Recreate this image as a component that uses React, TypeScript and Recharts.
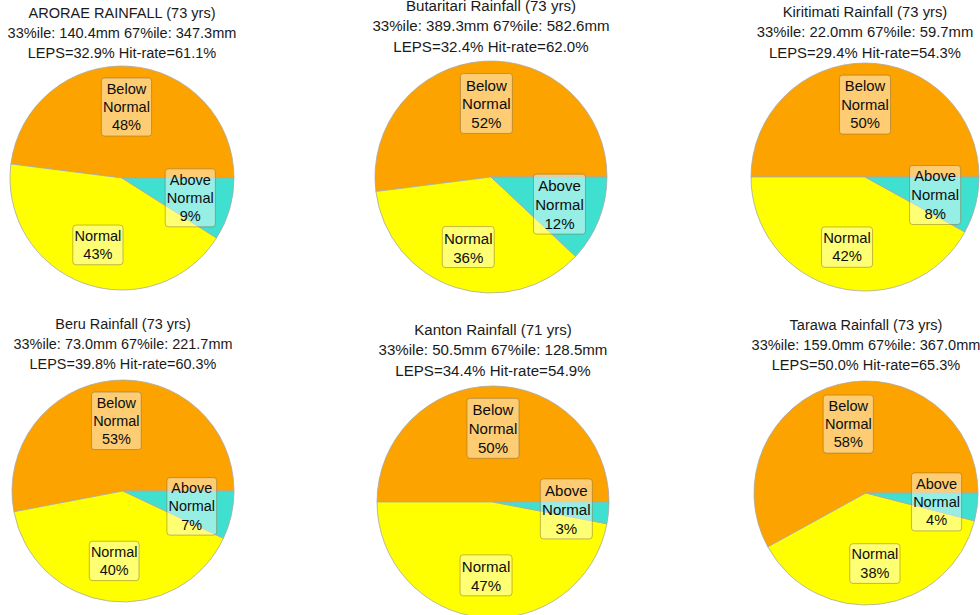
import React from 'react';
import { PieChart, Pie, Cell } from 'recharts';

// station summaries, in panel order (row by row)
const titles = [
  'ARORAE RAINFALL (73 yrs)',
  'Butaritari Rainfall (73 yrs)',
  'Kiritimati Rainfall (73 yrs)',
  'Beru Rainfall (73 yrs)',
  'Kanton Rainfall (71 yrs)',
  'Tarawa Rainfall (73 yrs)',
];
const pct33 = ['140.4', '389.3', '22.0', '73.0', '50.5', '159.0'];
const pct67 = ['347.3', '582.6', '59.7', '221.7', '128.5', '367.0'];
const leps = ['32.9', '32.4', '29.4', '39.8', '34.4', '50.0'];
const hitRate = ['61.1', '62.0', '54.3', '60.3', '54.9', '65.3'];

const categories = [['Below', 'Normal'], ['Normal'], ['Above', 'Normal']];
const belowNormal = [48, 52, 50, 53, 50, 58];
const normal = [43, 36, 42, 40, 47, 38];
const aboveNormal = [9, 12, 8, 7, 3, 4];

const sliceColors = ['#FCA300', '#FFFF00', '#40E0D0'];

// layout per panel: left, top, pie centre, radius, first title line centre
const panelLeft = [0, 327, 654, 0, 327, 654];
const panelTop = [0, 0, 0, 307, 307, 307];
const pieCx = [122, 164, 211, 123, 166, 212];
const pieCy = [178, 177, 177, 184, 195, 186];
const pieR = [112, 116, 114, 111, 116, 112];
const titleY = [13, 6, 12, 18, 23, 18];

const FONT = '"Liberation Sans", Arial, Helvetica, sans-serif';
const RAD = Math.PI / 180;

const makeLabel = (fontSize: number) => (props: any) => {
  const { cx, cy, midAngle, outerRadius, index, value } = props;
  const r = outerRadius * 0.635;
  const x = cx + r * Math.cos(-midAngle * RAD);
  const y = cy + r * Math.sin(-midAngle * RAD);
  const lines = [...categories[index], `${value}%`];
  const lh = fontSize * 1.26;
  const w = fontSize * 3.45;
  const h = lines.length * lh + 3;
  return (
    <g key={`lbl-${index}`}>
      <rect
        x={x - w / 2}
        y={y - h / 2}
        width={w}
        height={h}
        rx={3}
        fill="#ffffff"
        fillOpacity={0.45}
        stroke="#7a6430"
        strokeOpacity={0.45}
        strokeWidth={1}
      />
      <text
        x={x}
        y={y - ((lines.length - 1) * lh) / 2}
        textAnchor="middle"
        dominantBaseline="central"
        fontFamily={FONT}
        fontSize={fontSize}
        fill="#0d0d0d"
      >
        {lines.map((t, i) => (
          <tspan key={i} x={x} dy={i === 0 ? 0 : lh}>
            {t}
          </tspan>
        ))}
      </text>
    </g>
  );
};

const Panel: React.FC<{ i: number }> = ({ i }) => {
  const data = [belowNormal[i], normal[i], aboveNormal[i]].map((v, k) => ({
    name: categories[k].join(' '),
    value: v,
  }));
  const r = pieR[i];
  const titleSize = r * 0.13;
  const lineH = titleSize * 1.38;
  return (
    <div style={{ position: 'absolute', left: panelLeft[i], top: panelTop[i], width: 326, height: 308 }}>
      <div
        style={{
          position: 'absolute',
          left: pieCx[i] - 160,
          width: 320,
          top: titleY[i] - lineH / 2,
          textAlign: 'center',
          fontFamily: FONT,
          fontSize: titleSize,
          lineHeight: `${lineH}px`,
          color: '#1a1a1a',
          whiteSpace: 'nowrap',
          zIndex: 1,
        }}
      >
        <div>{titles[i]}</div>
        <div>{`33%ile: ${pct33[i]}mm 67%ile: ${pct67[i]}mm`}</div>
        <div>{`LEPS=${leps[i]}% Hit-rate=${hitRate[i]}%`}</div>
      </div>
      <PieChart
        width={326}
        height={308}
        margin={{ top: 0, right: 0, bottom: 0, left: 0 }}
        style={{ position: 'absolute', left: 0, top: 0 }}
      >
        <Pie
          data={data}
          dataKey="value"
          cx={pieCx[i]}
          cy={pieCy[i]}
          outerRadius={r}
          startAngle={0}
          endAngle={360}
          stroke="#a8a8a8"
          strokeWidth={0.8}
          labelLine={false}
          label={makeLabel(r / 7.7)}
          isAnimationActive={false}
        >
          {data.map((d, k) => (
            <Cell key={d.name} fill={sliceColors[k]} />
          ))}
        </Pie>
      </PieChart>
    </div>
  );
};

export default function App() {
  return (
    <div
      style={{
        position: 'absolute',
        left: 0,
        top: 0,
        width: 980,
        height: 615,
        overflow: 'hidden',
        background: '#fff',
      }}
    >
      {titles.map((_, i) => (
        <Panel key={i} i={i} />
      ))}
    </div>
  );
}
